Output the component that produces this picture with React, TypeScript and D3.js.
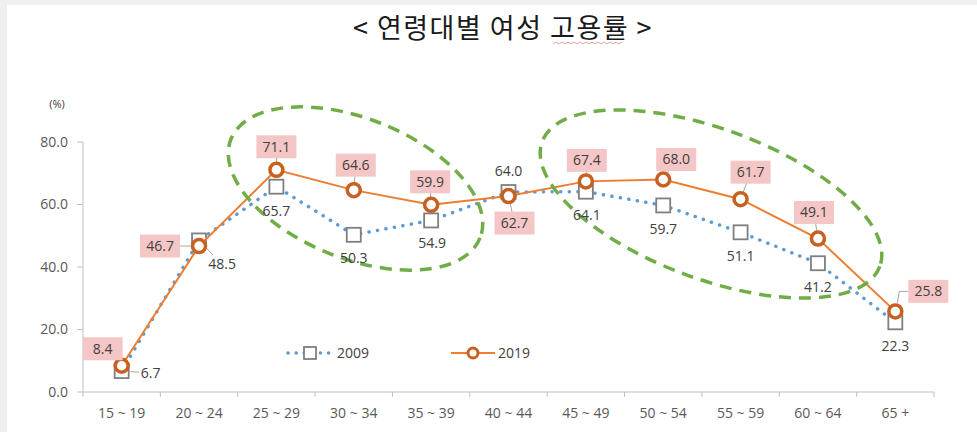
import React from "react";
import * as d3 from "d3";

const categories = ["15~19", "20~24", "25~29", "30~34", "35~39", "40~44", "45~49", "50~54", "55~59", "60~64", "65+"];
const values2009 = [6.7, 48.5, 65.7, 50.3, 54.9, 64.0, 64.1, 59.7, 51.1, 41.2, 22.3];
const values2019 = [8.4, 46.7, 71.1, 64.6, 59.9, 62.7, 67.4, 68.0, 61.7, 49.1, 25.8];
const yTicks = [0, 20, 40, 60, 80];
const seriesNames = ["2009", "2019"];
const title = "< 연령대별 여성 고용률 >";

// label layout offsets (px) relative to the data point
const off2019: [number, number][] = [[-19, -17], [-39, 0], [0, -23], [2, -25], [-1, -23], [6, 27], [1, -21], [13, -20], [10, -27], [-4, -26], [33, -20]];
const off2009: [number, number][] = [[29, 2], [23, 24], [0, 24], [0, 23], [1, 23], [0, -21], [1, 23], [0, 24], [0, 24], [0, 24], [0, 24]];

const W = 977, H = 432;
const FONT = "'Open Sans', 'Noto Sans CJK KR', sans-serif";

export default function App() {
  const x = d3.scaleBand<string>().domain(categories).range([83, 934]);
  const y = d3.scaleLinear().domain([0, 80]).range([392, 142]);
  const cx = (c: string) => (x(c) as number) + x.bandwidth() / 2;
  const line = d3.line<number>().x((_, i) => cx(categories[i])).y((d) => y(d));
  const fmt = d3.format(".1f");

  const ellipse = (ecx: number, ecy: number, a: number, b: number, rot: number) => (
    <ellipse cx={ecx} cy={ecy} rx={a} ry={b} transform={`rotate(${rot} ${ecx} ${ecy})`}
      fill="none" stroke="#70ad47" strokeWidth={3.5} strokeDasharray="12 8" />
  );

  const boundaries = [...categories.map((c) => x(c) as number), 934];

  return (
    <svg width={W} height={H} style={{ position: "fixed", left: 0, top: 0, background: "#fff" }} fontFamily={FONT}>
      <rect x={0} y={0} width={W} height={5} fill="#efefef" />
      <rect x={0} y={0} width={7} height={H} fill="#efefef" />

      <text x={503} y={38} textAnchor="middle" fontSize={27} fontWeight={400} letterSpacing={1.5} fill="#1a1a1a" fontFamily="'Noto Sans CJK KR', sans-serif">{title}</text>
      <path d={d3.range(0, 72, 3).map((k, i) => `${i === 0 ? "M" : "L"}${553 + k},${i % 2 ? 42 : 44}`).join(" ")} fill="none" stroke="#e8a0a0" strokeWidth={1} />

      {/* axes */}
      <text x={57} y={108} textAnchor="middle" fontSize={11} fill="#404040">(%)</text>
      <line x1={83} x2={83} y1={y(80)} y2={y(0)} stroke="#bfbfbf" />
      {yTicks.map((t) => (
        <g key={t}>
          <line x1={77} x2={83} y1={y(t)} y2={y(t)} stroke="#bfbfbf" />
          <text x={68} y={y(t)} dy="0.35em" textAnchor="end" fontSize={14} fill="#595959">{fmt(t)}</text>
        </g>
      ))}
      <line x1={83} x2={934} y1={y(0)} y2={y(0)} stroke="#bfbfbf" />
      {boundaries.map((b, i) => (
        <line key={i} x1={b} x2={b} y1={y(0)} y2={y(0) + 5} stroke="#bfbfbf" />
      ))}
      {categories.map((c) => (
        <text key={c} x={cx(c)} y={418} textAnchor="middle" fontSize={14} fill="#595959">{c.replace("~", " ~ ").replace("+", " +")}</text>
      ))}

      {/* leader lines */}
      {values2019.map((v, i) => i === 10 ? null : (
        <line key={"l19" + i} x1={cx(categories[i])} y1={y(v)} x2={cx(categories[i]) + off2019[i][0]} y2={y(v) + off2019[i][1]} stroke="#a6a6a6" strokeWidth={1} />
      ))}
      {(() => {
        const px = cx(categories[10]), py = y(values2019[10]);
        return <path d={`M${px + 2},${py - 8} L${px + 4},${py - 20} L${px + 13},${py - 20}`} fill="none" stroke="#a6a6a6" />;
      })()}
      {[0, 1].map((i) => {
        const px = cx(categories[i]), py = y(values2009[i]);
        const [dx, dy] = off2009[i];
        return <line key={"l09" + i} x1={px + dx * 0.3} y1={py + dy * 0.3} x2={px + dx * 0.6} y2={py + dy * 0.6} stroke="#a6a6a6" />;
      })}

      {/* 2009 series */}
      <path d={line(values2009) ?? ""} fill="none" stroke="#5b9bd5" strokeWidth={3.5} strokeLinecap="round" strokeDasharray="0.1 8.5" />
      {values2009.map((v, i) => (
        <rect key={"s" + i} x={cx(categories[i]) - 7} y={y(v) - 7} width={14} height={14} fill="#fff" stroke="#7f7f7f" strokeWidth={1.8} />
      ))}

      {/* 2019 series */}
      <path d={line(values2019) ?? ""} fill="none" stroke="#ed7d31" strokeWidth={2} />
      {values2019.map((v, i) => (
        <circle key={"c" + i} cx={cx(categories[i])} cy={y(v)} r={6.5} fill="#fff" stroke="#c8601f" strokeWidth={3.5} />
      ))}

      {/* ellipses */}
      {ellipse(355.5, 188.5, 134, 70, 21.6)}
      {ellipse(711, 204, 180, 75, 20.3)}

      {/* labels 2009 */}
      {values2009.map((v, i) => (
        <text key={"t09" + i} x={cx(categories[i]) + off2009[i][0]} y={y(v) + off2009[i][1]} dy="0.35em" textAnchor="middle" fontSize={14} fill="#404040">{fmt(v)}</text>
      ))}
      {/* labels 2019 */}
      {values2019.map((v, i) => {
        const lx = cx(categories[i]) + off2019[i][0], ly = y(v) + off2019[i][1];
        return (
          <g key={"t19" + i}>
            <rect x={lx - 20} y={ly - 11.5} width={40} height={23} fill="#f5c6c6" />
            <text x={lx} y={ly} dy="0.35em" textAnchor="middle" fontSize={14} fill="#404040">{fmt(v)}</text>
          </g>
        );
      })}

      {/* legend */}
      <line x1={288} x2={333} y1={353} y2={353} stroke="#5b9bd5" strokeWidth={3.5} strokeLinecap="round" strokeDasharray="0.1 8" />
      <rect x={304} y={347} width={12} height={12} fill="#fff" stroke="#7f7f7f" strokeWidth={1.8} />
      <text x={337} y={353} dy="0.35em" fontSize={14} fill="#404040">{seriesNames[0]}</text>
      <line x1={451} x2={495} y1={353} y2={353} stroke="#ed7d31" strokeWidth={2} />
      <circle cx={473} cy={353} r={5} fill="#fff" stroke="#c8601f" strokeWidth={3} />
      <text x={498} y={353} dy="0.35em" fontSize={14} fill="#404040">{seriesNames[1]}</text>
    </svg>
  );
}
